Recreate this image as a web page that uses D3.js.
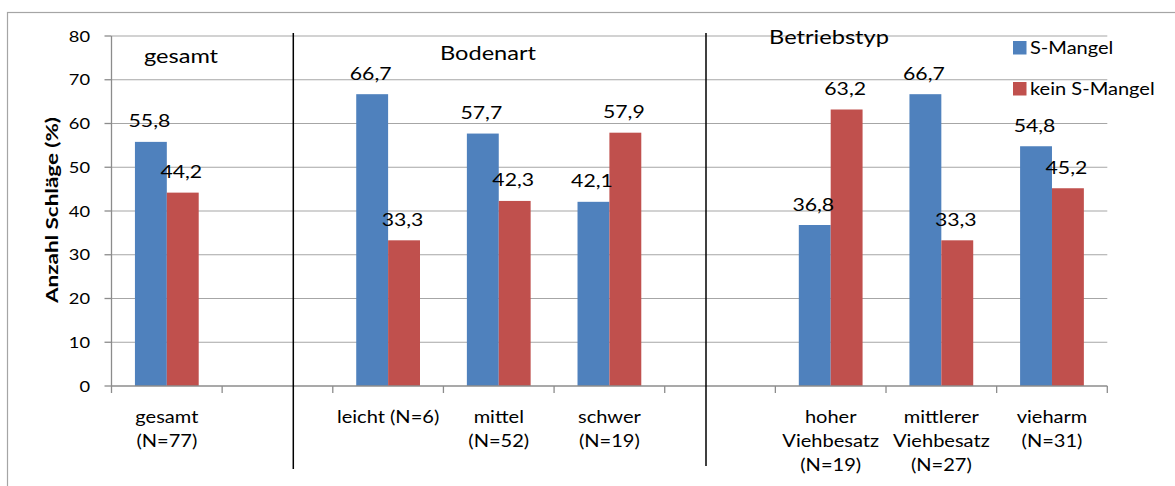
<!DOCTYPE html>
<html>
<head>
<meta charset="utf-8">
<script src="https://cdn.jsdelivr.net/npm/d3@7"></script>
<style>
  html, body { margin: 0; padding: 0; background: #fff; }
  svg { display: block; font-family: Lato, "Open Sans", sans-serif; }
</style>
</head>
<body>
<svg id="chart" width="1175" height="486"></svg>
<script>
// Category slots along the x axis (empty slots separate the groups)
const categoryKeys = ["gesamt", "gap1", "leicht", "mittel", "schwer", "gap2", "hoher", "mittlerer", "vieharm"];
const categoryLabels = [
  ["gesamt", "(N=77)"],
  [],
  ["leicht (N=6)"],
  ["mittel", "(N=52)"],
  ["schwer", "(N=19)"],
  [],
  ["hoher", "Viehbesatz", "(N=19)"],
  ["mittlerer", "Viehbesatz", "(N=27)"],
  ["vieharm", "(N=31)"]
];
const seriesNames = ["S-Mangel", "kein S-Mangel"];
const sMangel      = [55.8, null, 66.7, 57.7, 42.1, null, 36.8, 66.7, 54.8];
const keinSMangel  = [44.2, null, 33.3, 42.3, 57.9, null, 63.2, 33.3, 45.2];
const yTicks = [0, 10, 20, 30, 40, 50, 60, 70, 80];
const groupTitles = ["gesamt", "Bodenart", "Betriebstyp"];
const yTitle = "Anzahl Schläge (%)";

const colors = { "S-Mangel": "#4F81BD", "kein S-Mangel": "#C0504D" };
const SX = 1.18; // horizontal stretch of the text glyphs

const svg = d3.select("#chart");

// frame around the chart area
svg.append("rect")
  .attr("x", 7.5).attr("y", 12.5)
  .attr("width", 1200).attr("height", 500)
  .attr("fill", "none").attr("stroke", "#a5a5a5").attr("stroke-width", 1.2);

const plot = { left: 111.5, right: 1107.3, top: 36, bottom: 386 };

const x = d3.scaleBand().domain(categoryKeys).range([plot.left, plot.right]).padding(0);
const xSub = d3.scaleBand().domain(seriesNames).range([0, x.bandwidth()])
  .paddingInner(0).paddingOuter(0.735);
const y = d3.scaleLinear().domain([0, 80]).range([plot.bottom, plot.top]);

function stretchedText(parent, px, py, str, size, anchor, weight) {
  return parent.append("text")
    .attr("transform", `translate(${px},${py}) scale(${SX},1)`)
    .attr("text-anchor", anchor || "middle")
    .attr("font-size", size)
    .attr("font-weight", weight || "normal")
    .attr("fill", "#000")
    .text(str);
}

// horizontal grid lines
svg.append("g").selectAll("line")
  .data(yTicks.filter(t => t > 0))
  .join("line")
  .attr("x1", plot.left).attr("x2", plot.right)
  .attr("y1", d => y(d)).attr("y2", d => y(d))
  .attr("stroke", "#a6a6a6").attr("stroke-width", 1.2);

// y axis
const yAxis = svg.append("g");
yAxis.append("line")
  .attr("x1", plot.left).attr("x2", plot.left)
  .attr("y1", y(80)).attr("y2", y(0))
  .attr("stroke", "#8c8c8c").attr("stroke-width", 1.3);
yAxis.selectAll("line.tick").data(yTicks).join("line").attr("class", "tick")
  .attr("x1", plot.left - 7).attr("x2", plot.left)
  .attr("y1", d => y(d)).attr("y2", d => y(d))
  .attr("stroke", "#8c8c8c").attr("stroke-width", 1.3);
yTicks.forEach(t => stretchedText(yAxis, 90, y(t) + 5.6, String(t), 15.5, "end"));

// y axis title
svg.append("text")
  .attr("transform", "translate(58,210) rotate(-90)")
  .attr("text-anchor", "middle")
  .attr("font-size", 17.5)
  .attr("font-weight", "bold")
  .attr("fill", "#000")
  .attr("textLength", 186)
  .attr("lengthAdjust", "spacingAndGlyphs")
  .text(yTitle);

// bars
const rows = categoryKeys.map((k, i) => ({ key: k, values: [
  { series: "S-Mangel", value: sMangel[i] },
  { series: "kein S-Mangel", value: keinSMangel[i] }
].filter(v => v.value !== null) }));

const barGroups = svg.append("g").selectAll("g")
  .data(rows).join("g")
  .attr("transform", d => `translate(${x(d.key)},0)`);

barGroups.selectAll("rect")
  .data(d => d.values).join("rect")
  .attr("x", d => xSub(d.series))
  .attr("y", d => y(d.value))
  .attr("width", xSub.bandwidth())
  .attr("height", d => y(0) - y(d.value))
  .attr("fill", d => colors[d.series]);

// value labels above the bars
barGroups.each(function (d) {
  const g = d3.select(this);
  d.values.forEach(v => {
    stretchedText(g, xSub(v.series) + xSub.bandwidth() / 2 - 1.5, y(v.value) - 14.5,
      v.value.toFixed(1).replace(".", ","), 18, "middle");
  });
});

// x axis line and ticks at slot boundaries
const xAxis = svg.append("g");
xAxis.append("line")
  .attr("x1", plot.left).attr("x2", plot.right)
  .attr("y1", y(0)).attr("y2", y(0))
  .attr("stroke", "#8c8c8c").attr("stroke-width", 1.3);
const bounds = categoryKeys.map(k => x(k)).concat([plot.right]);
xAxis.selectAll("line.tick").data(bounds).join("line").attr("class", "tick")
  .attr("x1", d => d).attr("x2", d => d)
  .attr("y1", y(0)).attr("y2", y(0) + 7)
  .attr("stroke", "#8c8c8c").attr("stroke-width", 1.3);

// category labels
categoryKeys.forEach((k, i) => {
  const cx = x(k) + x.bandwidth() / 2;
  categoryLabels[i].forEach((line, j) => {
    stretchedText(xAxis, cx, 423 + j * 24, line, 17, "middle");
  });
});

// group separators
[[293.3, 33, 469], [706, 33, 466]].forEach(([sx, y1, y2]) => {
  svg.append("line")
    .attr("x1", sx).attr("x2", sx).attr("y1", y1).attr("y2", y2)
    .attr("stroke", "#000").attr("stroke-width", 1.5);
});

// group titles
const titlePos = [[181, 63], [488, 60], [829, 43.5]];
groupTitles.forEach((t, i) => stretchedText(svg, titlePos[i][0], titlePos[i][1], t, 20, "middle"));

// legend
const legend = svg.append("g").attr("transform", "translate(1013,41)");
seriesNames.forEach((name, i) => {
  const row = legend.append("g").attr("transform", `translate(0,${i * 41})`);
  row.append("rect").attr("width", 13.5).attr("height", 13.5).attr("fill", colors[name]);
  stretchedText(row, 17, 13.3, name, 17, "start");
});
</script>
</body>
</html>
